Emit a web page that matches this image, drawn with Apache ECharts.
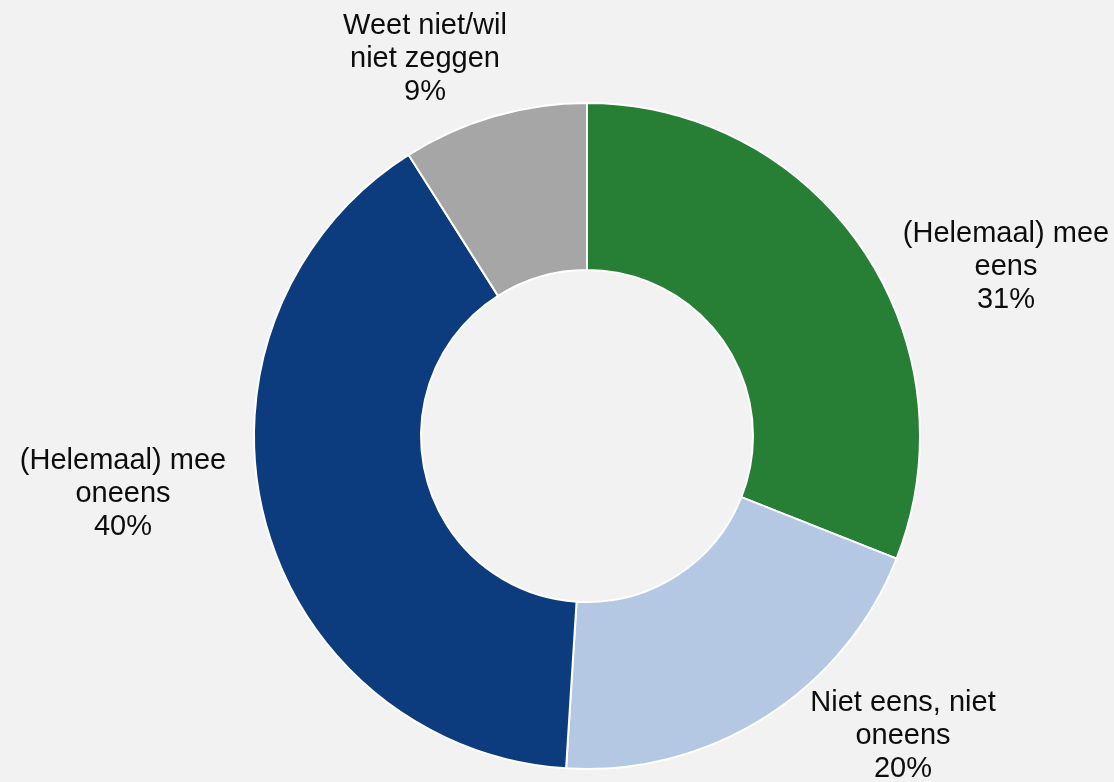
<!DOCTYPE html>
<html>
<head>
<meta charset="utf-8">
<script src="https://cdn.jsdelivr.net/npm/echarts@6/dist/echarts.min.js"></script>
<style>
html,body{margin:0;padding:0;background:#f2f2f2;}
#chart{width:1114px;height:782px;}
</style>
</head>
<body>
<div id="chart"></div>
<script>
const categories = ['(Helemaal) mee\neens', 'Niet eens, niet\noneens', '(Helemaal) mee\noneens', 'Weet niet/wil\nniet zeggen'];
const values = [31, 20, 40, 9];
const colors = ['#267f34', '#b4c8e3', '#0c3b7e', '#a6a6a6'];
// label offsets from pie centre (layout only)
const labelOffsets = [[419, -169], [316, 300], [-464, 58], [-162, -377]];
const cx = 587, cy = 436;

const chart = echarts.init(document.getElementById('chart'));
chart.setOption({
  backgroundColor: '#f2f2f2',
  animation: false,
  series: [{
    type: 'pie',
    center: [cx, cy],
    radius: [166, 333],
    startAngle: 90,
    clockwise: true,
    avoidLabelOverlap: false,
    data: categories.map((c, i) => ({ name: c, value: values[i], itemStyle: { color: colors[i] } })),
    itemStyle: { borderColor: '#ffffff', borderWidth: 2 },
    label: {
      show: true,
      position: 'outside',
      formatter: p => p.name + '\n' + p.value + '%',
      fontFamily: 'Liberation Sans, Arial, sans-serif',
      fontSize: 29,
      lineHeight: 33,
      color: '#0d0d0d',
      align: 'center'
    },
    labelLine: { show: false },
    labelLayout: function (params) {
      const o = labelOffsets[params.dataIndex];
      return { x: cx + o[0], y: cy + o[1], align: 'center', verticalAlign: 'middle' };
    }
  }]
});
</script>
</body>
</html>
